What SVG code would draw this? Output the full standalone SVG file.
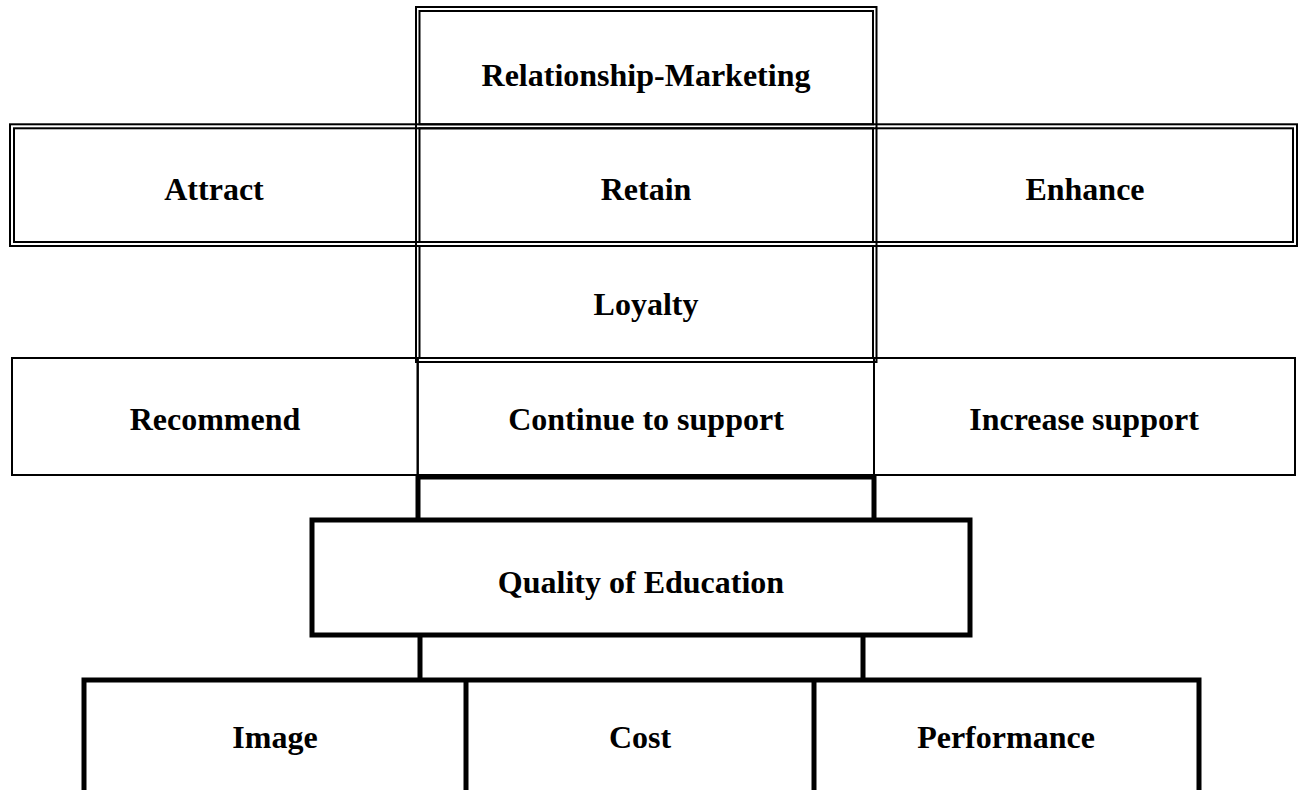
<svg xmlns="http://www.w3.org/2000/svg" width="1301" height="790" viewBox="0 0 1301 790">
  <style>
    .thin { fill: none; stroke: #000; stroke-width: 2; }
    .thick { fill: none; stroke: #000; stroke-width: 5; stroke-linejoin: miter; }
    .lbl { font-family: "Liberation Serif", "Times New Roman", serif; font-weight: bold; font-size: 32px; fill: #000; text-anchor: middle; }
  </style>
  <rect width="1301" height="790" fill="#fff"/>

  <!-- Top: Relationship-Marketing (double border) -->
  <g id="relationship-marketing">
    <rect class="thin" x="416" y="7" width="460.5" height="121.3"/>
    <rect class="thin" x="419.5" y="11" width="453.5" height="113.3"/>
    <text class="lbl" x="646" y="86">Relationship-Marketing</text>
  </g>

  <!-- Row 2: Attract / Retain / Enhance (double border table) -->
  <g id="row-arr-frame">
    <rect class="thin" x="10" y="124.3" width="1287" height="121.7"/>
  </g>
  <g id="attract">
    <rect class="thin" x="14" y="128.3" width="402" height="113.7"/>
    <text class="lbl" x="214" y="200">Attract</text>
  </g>
  <g id="retain">
    <rect class="thin" x="419.5" y="128.3" width="453.5" height="113.7"/>
    <text class="lbl" x="646" y="200">Retain</text>
  </g>
  <g id="enhance">
    <rect class="thin" x="876.5" y="128.3" width="416.5" height="113.7"/>
    <text class="lbl" x="1085" y="200">Enhance</text>
  </g>

  <!-- Loyalty (double border) -->
  <g id="loyalty">
    <rect class="thin" x="416" y="242" width="460.5" height="120"/>
    <rect class="thin" x="419.5" y="246" width="453.5" height="112"/>
    <text class="lbl" x="646" y="315">Loyalty</text>
  </g>

  <!-- Row 4: single-line table -->
  <g id="recommend">
    <rect class="thin" x="12" y="358" width="405.7" height="117"/>
    <text class="lbl" x="215" y="430">Recommend</text>
  </g>
  <g id="continue-to-support">
    <rect class="thin" x="417.7" y="358" width="456.3" height="117"/>
    <text class="lbl" x="646" y="430">Continue to support</text>
  </g>
  <g id="increase-support">
    <rect class="thin" x="874" y="358" width="421" height="117"/>
    <text class="lbl" x="1084" y="430">Increase support</text>
  </g>

  <!-- Quality of Education (heavy border) -->
  <g id="quality-of-education">
    <rect class="thick" x="312" y="520" width="658" height="115"/>
    <text class="lbl" x="641" y="593">Quality of Education</text>
  </g>

  <!-- Bottom row: open-bottomed heavy cells -->
  <g id="image">
    <text class="lbl" x="275" y="748">Image</text>
  </g>
  <g id="cost">
    <text class="lbl" x="640" y="748">Cost</text>
  </g>
  <g id="performance">
    <text class="lbl" x="1006" y="748">Performance</text>
  </g>

  <!-- Heavy connecting brackets and bottom-row frame -->
  <g id="connectors">
    <path class="thick" d="M418,520 V477 H874 V520"/>
    <path class="thick" d="M420,635 V680"/>
    <path class="thick" d="M863,635 V680"/>
    <path class="thick" d="M84,790 V680 H1199 V790"/>
    <path class="thick" d="M466,680 V790"/>
    <path class="thick" d="M814,680 V790"/>
  </g>
</svg>
